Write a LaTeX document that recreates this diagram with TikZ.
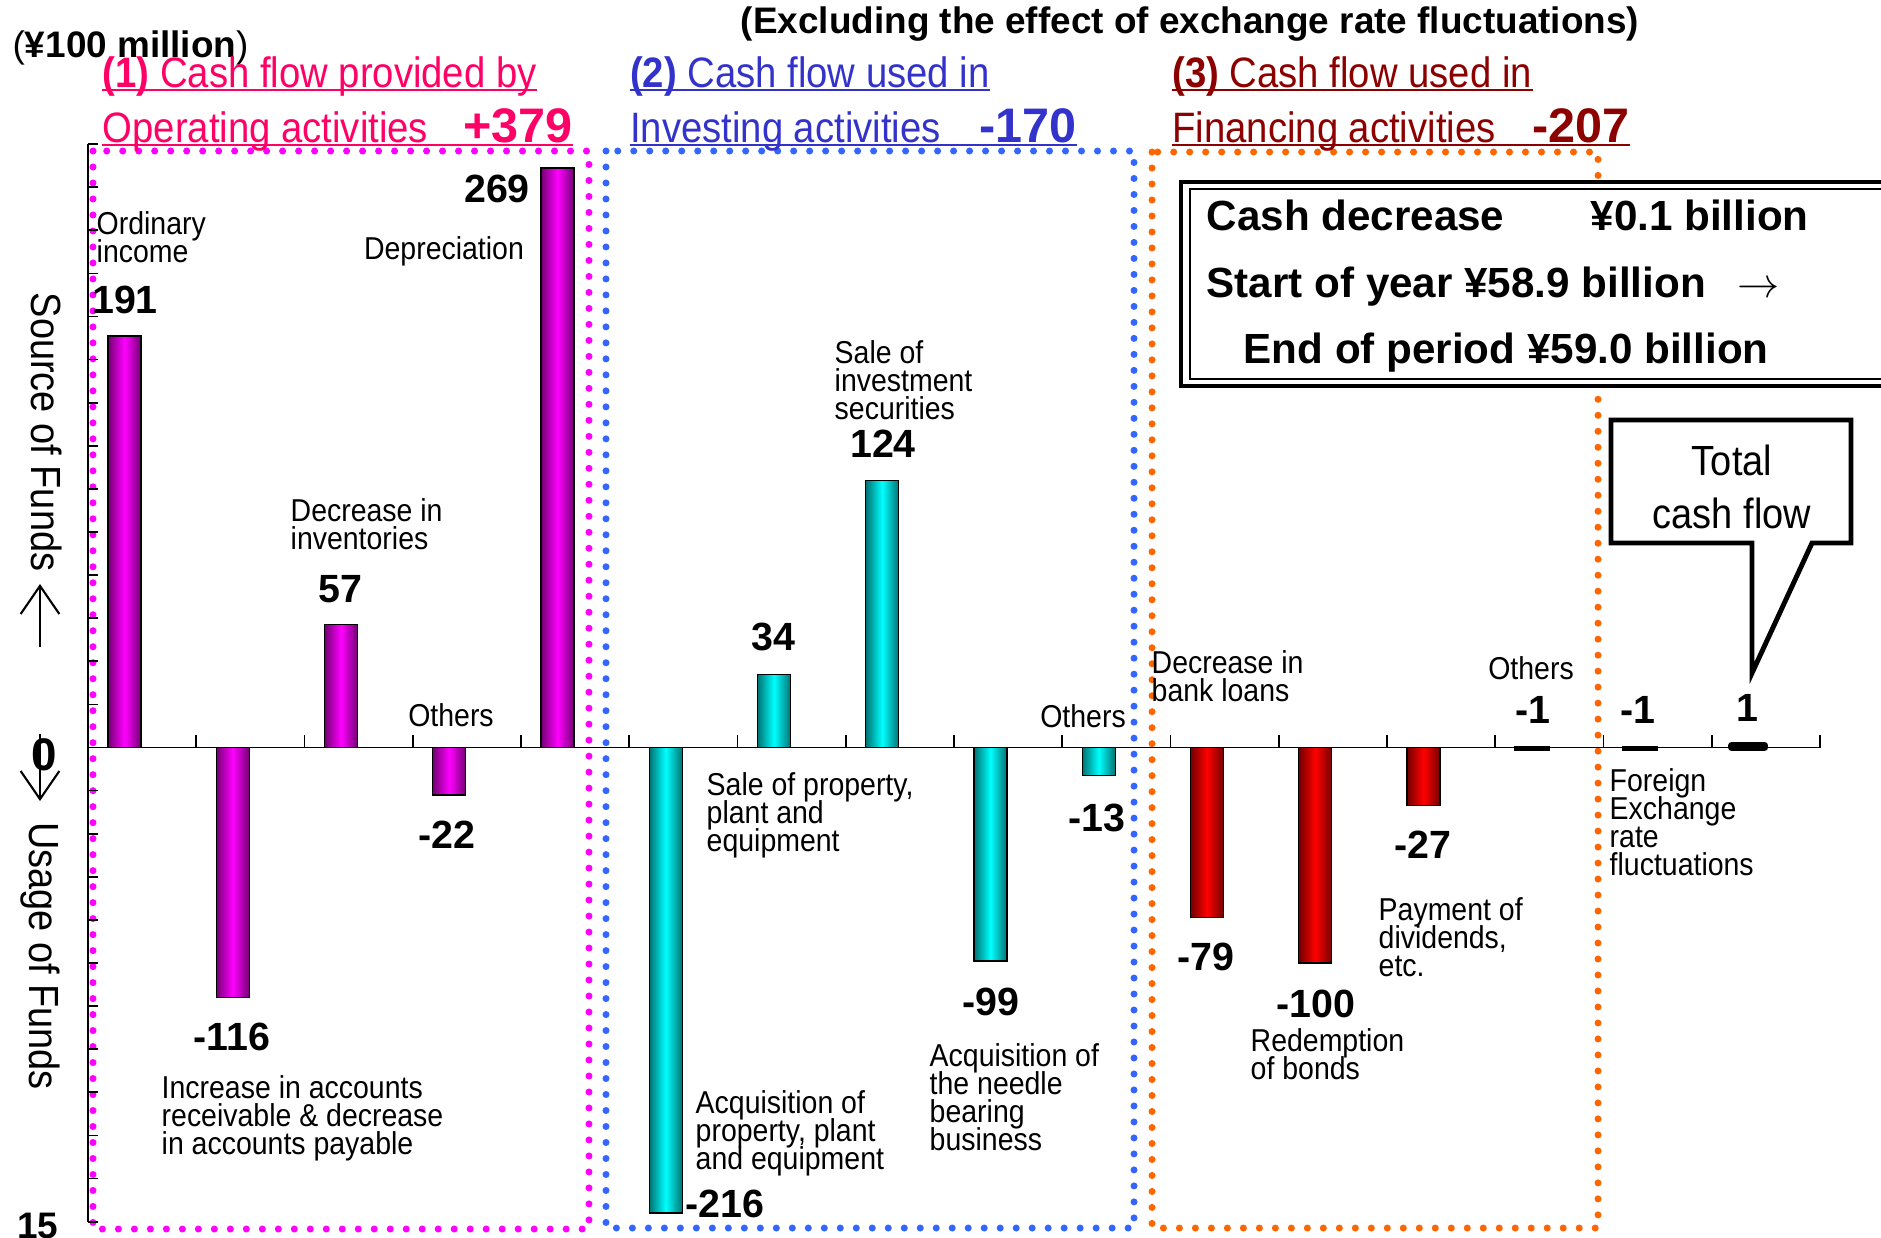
\documentclass[tikz,border=0pt]{standalone}
\usepackage{fontspec}
\setmainfont{Liberation Sans}
\newfontfamily\nf{Liberation Sans}[FakeStretch=0.9]
\usetikzlibrary{arrows.meta,positioning}

\definecolor{opcol}{RGB}{255,0,102}
\definecolor{invcol}{RGB}{51,51,204}
\definecolor{fincol}{RGB}{140,0,0}
\definecolor{opdot}{RGB}{255,0,255}
\definecolor{invdot}{RGB}{51,102,255}
\definecolor{findot}{RGB}{255,102,0}

\newcommand{\lblfont}{\nf\fontsize{9}{8}\selectfont\lineskiplimit=-5pt\relax}

\tikzset{
  lbl/.style={font=\lblfont, align=left, inner sep=0pt, anchor=north west},
  val/.style={font=\bfseries\fontsize{11.2}{12}\selectfont, inner sep=0pt},
  head/.style={font=\nf\fontsize{12.1}{13}\selectfont, inner sep=0pt, anchor=base west},
  headnum/.style={font=\bfseries\fontsize{13.8}{14}\selectfont, inner sep=0pt, anchor=base east},
  boxtxt/.style={font=\bfseries\fontsize{12}{14}\selectfont, inner sep=0pt, anchor=base west},
  side/.style={font=\nf\fontsize{12}{14}\selectfont, inner sep=0pt, rotate=-90},
  dotbox/.style={line width=2pt, line cap=round, dash pattern=on 0pt off 4.55pt},
  opbar/.style={draw=black, line width=0.4pt, left color=opdot!45!black, right color=opdot!45!black, middle color=opdot},
  invbar/.style={draw=black, line width=0.4pt, left color=cyan!45!black, right color=cyan!45!black, middle color=cyan},
  finbar/.style={draw=black, line width=0.4pt, left color=red!45!black, right color=red!45!black, middle color=red},
  flatbar/.style={draw=black, fill=black, line width=0.7pt},
  totbar/.style={draw=black, fill=black, line width=2pt, line join=round},
  bigarrow/.style={line width=0.6pt, -{Straight Barb[length=8pt,width=11pt]}},
  underl/.style={line width=0.5pt}
}

\begin{document}
\begin{tikzpicture}[x=0.1mm, y=-0.1mm]
\useasboundingbox (0,0) rectangle (1881,1237);

\draw[dotbox, opdot] (93,151) rectangle (589,1229);
\draw[dotbox, invdot] (606,151) rectangle (1134,1228);
\draw[dotbox, findot] (1152,152) rectangle (1598,1228);

\node[font=\bfseries\fontsize{10.5}{12}\selectfont, anchor=base, inner sep=0pt] (ttl) at (1190,33) {(Excluding the effect of exchange rate fluctuations)};
\node[font=\fontsize{10.5}{12}\selectfont, anchor=base west, inner sep=0pt] (unit) at (12,57) {(\textbf{¥100 million})};

\node[head, text=opcol] (opA) at (102,87) {\textbf{(1)} Cash flow provided by};
\node[head, text=opcol] (opB) at (102,142) {Operating activities};
\node[headnum, text=opcol] (opN) at (573,142) {+379};
\draw[underl, opcol] ([yshift=-0.85pt]opA.base west) -- ([yshift=-0.85pt]opA.base east);
\draw[underl, opcol] ([yshift=-0.85pt]opB.base west) -- ([yshift=-0.85pt]opN.base east);

\node[head, text=invcol] (invA) at (629.5,87) {\textbf{(2)} Cash flow used in};
\node[head, text=invcol] (invB) at (629.5,142) {Investing activities};
\node[headnum, text=invcol] (invN) at (1077,142) {-170};
\draw[underl, invcol] ([yshift=-0.85pt]invA.base west) -- ([yshift=-0.85pt]invA.base east);
\draw[underl, invcol] ([yshift=-0.85pt]invB.base west) -- ([yshift=-0.85pt]invN.base east);

\node[head, text=fincol] (finA) at (1171.7,87) {\textbf{(3)} Cash flow used in};
\node[head, text=fincol] (finB) at (1171.7,142) {Financing activities};
\node[headnum, text=fincol] (finN) at (1630,142) {-207};
\draw[underl, fincol] ([yshift=-0.85pt]finA.base west) -- ([yshift=-0.85pt]finA.base east);
\draw[underl, fincol] ([yshift=-0.85pt]finB.base west) -- ([yshift=-0.85pt]finN.base east);

\draw[line width=1pt, fill=white] (1181,182) rectangle (1900,386);
\draw[line width=0.5pt] (1190,189) rectangle (1900,379);
\node[boxtxt] (cashdec) at (1206,230) {Cash decrease};
\node[boxtxt] (cashamt) at (1590,230) {¥0.1 billion};
\node[boxtxt] (startyr) at (1206,297) {Start of year ¥58.9 billion\hspace{9pt}{\normalfont$\rightarrow$}};
\node[boxtxt] (endpd) at (1243,363) {End of period ¥59.0 billion};

\draw[line width=1.4pt, fill=white] (1611,420) -- (1851,420) -- (1851,543) -- (1812,543) -- (1752,673) -- (1752,543) -- (1611,543) -- cycle;
\node[font=\nf\fontsize{12}{15}\selectfont, align=center, inner sep=0pt] (totlbl) at (1732,487) {Total\\cash flow};

\draw[line width=0.5pt] (88,144.1) -- (88,1221.6);
\foreach \n in {-11,...,14}
  \draw[line width=0.5pt] (88,{747.5-43.1*\n}) -- ++(10,0);

\foreach \k/\v/\s in {0/191/opbar,1/-116/opbar,2/57/opbar,3/-22/opbar,4/269/opbar,
    5/-216/invbar,6/34/invbar,7/124/invbar,8/-99/invbar,9/-13/invbar,
    10/-79/finbar,11/-100/finbar,12/-27/finbar,13/-1/flatbar,14/-1/flatbar,15/1/totbar}
  \path[\s] ({108+108.25*\k},747.5) rectangle ({141+108.25*\k},{747.5-2.155*\v});

\draw[line width=0.5pt] (88,747.5) -- (1820,747.5);
\foreach \k in {1,...,16}
  \draw[line width=0.5pt] ({88+108.25*\k},747.5) -- ++(0,-13);

\foreach \x/\y/\t in {125/300/191, 232/1037/-116, 340/589/57, 447/835/-22, 497/189/269,
    725/1204/-216, 773/637/34, 883/444/124, 991/1002/-99, 1097/818/-13,
    1206/957/-79, 1316/1004/-100, 1423/845/-27, 1533/710/-1, 1638/710/-1, 1747/708/1}
  \node[val] (val\x) at (\x,\y) {\t};

\node[lbl] (ordlbl) at (96,211) {Ordinary\\income};
\node[lbl, anchor=center] (deplbl) at (444,251) {Depreciation};
\node[lbl] (stocklbl) at (290,498) {Decrease in\\inventories};
\node[lbl, anchor=center] (othA) at (451,715) {Others};
\node[lbl] (recvlbl) at (161,1075) {Increase in accounts\\receivable \& decrease\\in accounts payable};
\node[lbl] (seclbl) at (834,340) {Sale of\\investment\\securities};
\node[lbl] (ppesale) at (706,772) {Sale of property,\\plant and\\equipment};
\node[lbl, anchor=center] (othB) at (1083,716) {Others};
\node[lbl] (needlelbl) at (929,1043) {Acquisition of\\the needle\\bearing\\business};
\node[lbl] (ppeacq) at (695,1090) {Acquisition of\\property, plant\\and equipment};
\node[lbl] (loanlbl) at (1151,650) {Decrease in\\bank loans};
\node[lbl, anchor=center] (othC) at (1531,668) {Others};
\node[lbl] (divlbl) at (1378,897) {Payment of\\dividends,\\etc.};
\node[lbl] (bondlbl) at (1250,1028) {Redemption\\of bonds};
\node[lbl] (fxlbl) at (1609,768) {Foreign\\Exchange\\rate\\fluctuations};

\node[side] (srclbl) at (47,432) {Source of Funds};
\node[side] (uselbl) at (40,956) {Usage of Funds};
\coordinate (uptail) at (40,647);
\coordinate (uptip) at (40,584);
\coordinate (dntail) at (40,734);
\coordinate (dntip) at (40,801);
\draw[bigarrow] (uptail) -- (uptip);
\draw[bigarrow] (dntail) -- (dntip);
\node[font=\bfseries\fontsize{13}{14}\selectfont, inner sep=0pt] (zero) at (44,755) {0};
\node[font=\bfseries\fontsize{10.5}{12}\selectfont, inner sep=0pt] (fifteen) at (38,1226) {15};
\end{tikzpicture}
\end{document}
